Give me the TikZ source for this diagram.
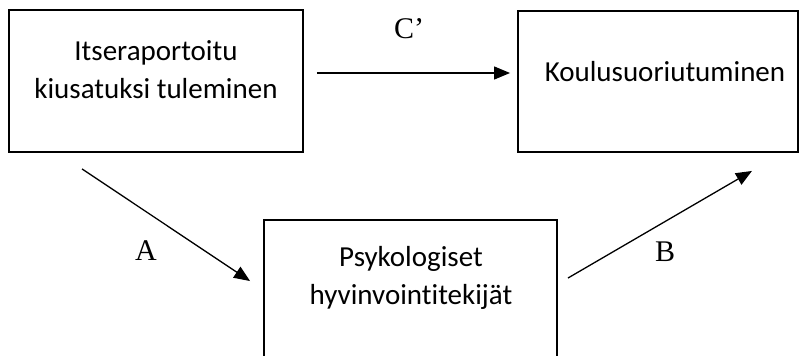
\documentclass[tikz,border=0pt]{standalone}
\usepackage{fontspec}
\setmainfont{Carlito}[Ligatures=NoCommon]
\newfontfamily\labelfont{Liberation Serif}
\usetikzlibrary{arrows.meta,calc}

\tikzset{
    boxnode/.style={draw, line width=1.9pt, rectangle, inner sep=0pt},
    boxtext/.style={align=center, font=\fontsize{29}{38}\selectfont, inner sep=0pt},
    pathlabel/.style={font=\labelfont\fontsize{30}{36}\selectfont, inner sep=0pt},
    arr/.style={line width=1.3pt, -{Triangle[length=16pt,width=13pt]}}
}

\begin{document}
\begin{tikzpicture}[x=1pt,y=-1pt]
        \useasboundingbox (0,0) rectangle (801,356);
        \clip (0,0) rectangle (801,356);

        % Draw the first box
        \node[boxnode, minimum width=294pt, minimum height=142pt] (kiusaus) at (156,81) {};
        \node[boxtext] (kiusausText) at (156,70) {Itseraportoitu\\kiusatuksi tuleminen};

        % Draw the outcome box
        \node[boxnode, minimum width=280pt, minimum height=141pt] (koulu) at (658,81.5) {};
        \node[boxtext] (kouluText) at (665,72) {Koulusuoriutuminen};

        % Draw the mediator box (runs past the bottom edge)
        \node[boxnode, minimum width=293pt, minimum height=170pt] (hyvinvointi) at (410.5,305) {};
        \node[boxtext] (hyvinvointiText) at (411,278) {Psykologiset\\hyvinvointitekij\"at};

        % Direct path
        \draw[arr, shorten <=13pt, shorten >=7pt] (kiusaus.east |- 0,73) -- (koulu.west |- 0,73);
        \node[pathlabel] (cLabel) at (409,29) {C’};

        % Path A
        \draw[arr] ($(kiusaus.south west)+(74,16)$) -- ($(hyvinvointi.north west)+(-13,62)$);
        \node[pathlabel] (aLabel) at (146,251) {A};

        % Path B
        \draw[arr] ($(hyvinvointi.north east)+(10,59)$) -- ($(koulu.south east)+(-47,18)$);
        \node[pathlabel] (bLabel) at (665,252) {B};
    \end{tikzpicture}
\end{document}
